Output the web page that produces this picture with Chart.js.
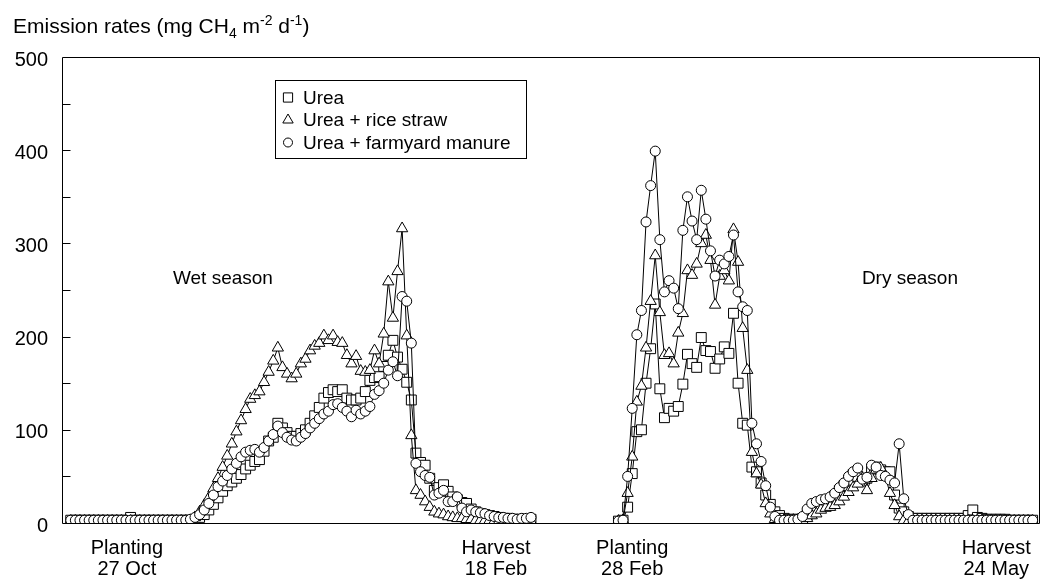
<!DOCTYPE html>
<html><head><meta charset="utf-8">
<script src="https://cdn.jsdelivr.net/npm/chart.js@4.4.1/dist/chart.umd.min.js"></script>
<style>html,body{margin:0;padding:0;background:#fff;overflow:hidden}</style>
</head><body>
<canvas id="c" width="1041" height="583"></canvas>
<script>
// ---- data (days after wet-season planting; one sample per day) ----
const seriesNames = ['Urea', 'Urea + rice straw', 'Urea + farmyard manure'];
const wetStartDay = 0;
const dryStartDay = 119;

const wetUrea = [3,3,3,3,3,3,3,3,3,3,3,3,3, 6, 3,3,3,3,3,3,3,3,3,3,3,3,3,
  4,6,9,14,20,27,34,40,44,48,
  52,58,62,66,68,77,88,92,107,102,
  97,93,93,96,100,107,115,124,134,140,
  143,141,143,134,132,132,134,141,153,156,
  157,168,180,196,178,165,151,132,75,65,
  62,48,35,38,41,34,28,25,22,21,
  15,12,10,9,8,7,6,5,5,4,
  4,4,4,4];
const wetStraw = [2,2,2,2,2,2,2,2,2,2,2,2,2,2,2,2,2,2,2,2,2,2,2,2,2,2,2,
  6,12,19,27,37,48,60,72,85,98,
  110,122,133,137,141,151,162,174,188,167,
  160,155,160,171,176,185,190,193,201,196,
  201,194,193,180,171,179,163,162,164,185,
  171,203,259,220,270,316,201,94,35,30,
  23,17,12,10,9,7,6,5,5,4,
  4,3,3,3,3,2,2,2,2,2,
  2,2,2,2];
const wetFym = [3,3,3,3,3,3,3,3,3,3,3,3,3,3,3,3,3,3,3,3,3,3,3,3,3, 3,4,
  6,9,14,21,30,39,45,51,58,64,
  71,76,78,79,76,81,88,95,104,97,
  92,89,88,92,96,102,107,112,117,120,
  127,128,124,120,114,121,117,120,125,138,
  142,150,164,173,158,243,238,193,64,55,
  51,49,30,32,35,23,23,28,16,12,
  14,12,11,10,8,7,6,6,5,5,
  4,5,5,6];

const dryUrea = [2,3,17,53,98,100,150,187,235,144,
  113,123,120,125,149,181,171,167,199,185,
  184,166,176,189,182,225,150,107,105,60,
  55,43,30,20,12,8,5,4,4,4,
  4,8,13,18,20,22,25,29,35,40,
  46,52,50,45,48,58,60,57,55,55,
  30,16,12,7,5,5,5,5,5,5,
  5,5,5,5,5,5,8,14,6,5,
  4,4,4,4,4,3,3,3,3,3,
  3];
const dryStraw = [2,3,32,71,130,147,188,238,287,226,
  180,182,171,204,225,271,266,278,300,309,
  282,234,265,271,260,315,280,209,164,76,
  53,41,21,10,4,3,3,3,3,3,
  3,5,8,10,14,16,17,19,23,28,
  33,38,42,48,35,48,57,59,50,32,
  19,7,3,2,2,2,2,2,2,2,
  2,2,2,2,2,2,2,2,2,2,
  2,2,2,2,2,2,2,2,2,2,
  2];
const dryFym = [2,3,50,123,202,228,323,362,399,304,
  248,260,252,230,314,350,324,304,357,326,
  292,265,282,278,286,309,248,232,228,107,
  85,66,40,17,7,3,3,3,3,4,
  7,15,21,23,25,26,28,32,38,43,
  50,55,59,47,49,62,60,51,50,46,
  43,85,26,9,3,3,3,3,3,3,
  3,3,3,3,3,3,3,3,3,3,
  3,3,3,3,3,3,3,3,3,3,
  3];

const xTickValues = [12.2, 92.4, 122, 201.1];
const xTickLabels = [['Planting','27 Oct'], ['Harvest','18 Feb'], ['Planting','28 Feb'], ['Harvest','24 May']];
const yTickValues = [0, 100, 200, 300, 400, 500];
const yMinorTicks = [50, 100, 150, 200, 250, 300, 350, 400, 450];
const seasonNames = ['Wet season', 'Dry season'];

// ---- build points (null gap between seasons) ----
function toPoints(wet, dry) {
  const pts = wet.map((v, i) => ({x: wetStartDay + i, y: v}));
  pts.push({x: (wetStartDay + wet.length + dryStartDay) / 2, y: null});
  dry.forEach((v, i) => pts.push({x: dryStartDay + i, y: v}));
  return pts;
}

const FONT = '"Liberation Sans", Arial, Helvetica, sans-serif';
const styles = [
  {pointStyle: 'rect', radius: 7, order: 2},
  {pointStyle: 'triangle', radius: 6.5, order: 1},
  {pointStyle: 'circle', radius: 5, order: 0}
];

const decor = {
  id: 'decor',
  beforeDatasetsDraw(chart) {
    const ctx = chart.ctx, ca = chart.chartArea, y = chart.scales.y;
    ctx.save();
    ctx.strokeStyle = '#000'; ctx.lineWidth = 1;
    const l = Math.round(ca.left) + 0.5, t = Math.round(ca.top) + 0.5;
    const r = Math.round(ca.right) - 0.5, b = Math.round(ca.bottom) + 0.5;
    ctx.beginPath();
    ctx.moveTo(l, t); ctx.lineTo(r, t); ctx.lineTo(r, b); ctx.lineTo(l, b); ctx.closePath();
    ctx.stroke();
    ctx.beginPath();
    yMinorTicks.forEach(v => {
      const py = Math.round(y.getPixelForValue(v)) + 0.5;
      ctx.moveTo(l, py); ctx.lineTo(l + 8, py);
    });
    ctx.stroke();
    // season labels
    ctx.fillStyle = '#000';
    ctx.font = '19px ' + FONT;
    ctx.textBaseline = 'middle'; ctx.textAlign = 'left';
    const xs = chart.scales.x;
    ctx.fillText(seasonNames[0], xs.getPixelForValue(22.2), y.getPixelForValue(262));
    ctx.fillText(seasonNames[1], xs.getPixelForValue(171.9), y.getPixelForValue(262));
    ctx.restore();
  },
  afterDraw(chart) {
    const ctx = chart.ctx;
    ctx.save();
    // axis title with sub/superscripts
    ctx.fillStyle = '#000'; ctx.textAlign = 'left'; ctx.textBaseline = 'alphabetic';
    const parts = [['Emission rates (mg CH', 0], ['4', 1], [' m', 0], ['-2', -1], [' d', 0], ['-1', -1], [')', 0]];
    let x = 13; const base = 33;
    parts.forEach(([s, k]) => {
      ctx.font = (k === 0 ? '21px ' : '14px ') + FONT;
      const dy = k === 1 ? 5 : (k === -1 ? -8 : 0);
      ctx.fillText(s, x, base + dy);
      x += ctx.measureText(s).width;
    });
    // legend
    const bx = 275.5, by = 80.5, bw = 251, bh = 78;
    ctx.fillStyle = '#fff'; ctx.fillRect(bx, by, bw, bh);
    ctx.strokeStyle = '#000'; ctx.lineWidth = 1; ctx.strokeRect(bx, by, bw, bh);
    ctx.font = '19px ' + FONT; ctx.textBaseline = 'middle';
    seriesNames.forEach((name, i) => {
      const ry = 97.5 + i * 22.5;
      ctx.fillStyle = '#fff'; ctx.strokeStyle = '#000'; ctx.lineWidth = 1;
      Chart.helpers.drawPoint(ctx, {pointStyle: styles[i].pointStyle, radius: styles[i].radius - 0.5, rotation: 0, borderWidth: 1}, 288, ry);
      ctx.fillStyle = '#000';
      ctx.fillText(name, 303, ry + 1);
    });
    ctx.restore();
  }
};

new Chart(document.getElementById('c'), {
  type: 'line',
  data: {
    datasets: [
      {label: seriesNames[0], data: toPoints(wetUrea, dryUrea)},
      {label: seriesNames[1], data: toPoints(wetStraw, dryStraw)},
      {label: seriesNames[2], data: toPoints(wetFym, dryFym)}
    ].map((d, i) => Object.assign(d, {
      pointStyle: styles[i].pointStyle, pointRadius: styles[i].radius, pointHoverRadius: styles[i].radius,
      order: styles[i].order, borderColor: '#000', borderWidth: 1, pointBorderColor: '#000',
      pointBackgroundColor: '#fff', pointBorderWidth: 1, tension: 0, fill: false, spanGaps: false
    }))
  },
  options: {
    responsive: false, animation: false, devicePixelRatio: 1,
    layout: {autoPadding: false, padding: {top: 57, right: 1, left: 0, bottom: 0}},
    plugins: {legend: {display: false}, tooltip: {enabled: false}, title: {display: false}},
    scales: {
      x: {
        type: 'linear', min: -1.9, max: 210.6,
        grid: {display: false, drawTicks: true, tickLength: 15}, border: {display: false},
        afterBuildTicks: s => { s.ticks = xTickValues.map(v => ({value: v})); },
        afterFit: s => { s.height = 60; },
        ticks: {autoSkip: false, maxRotation: 0, minRotation: 0, padding: 0, color: '#000',
          font: {family: FONT, size: 20, lineHeight: 1.05},
          callback: (v, i) => xTickLabels[i]}
      },
      y: {
        min: 0, max: 500,
        grid: {display: false, drawTicks: false}, border: {display: false},
        afterBuildTicks: s => { s.ticks = yTickValues.map(v => ({value: v})); },
        afterFit: s => { s.width = 62; },
        ticks: {padding: 14, labelOffset: 3, color: '#000', font: {family: FONT, size: 20}}
      }
    }
  },
  plugins: [decor]
});
</script>
</body></html>
